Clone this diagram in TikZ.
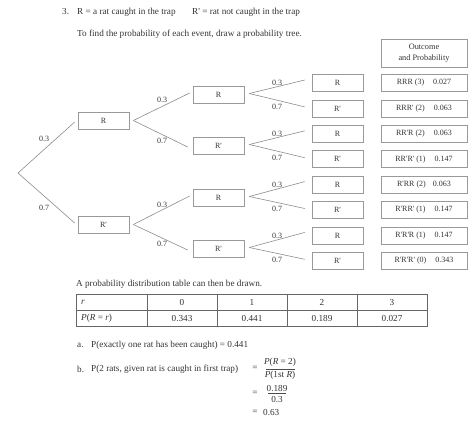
\documentclass[tikz,border=0pt]{standalone}
\usepackage{fontspec}
\setmainfont{Liberation Serif}[Ligatures=TeXOff]
\begin{document}
\begin{tikzpicture}[x=1pt,y=-1pt,
  every node/.style={font=\fontsize{9.2}{11}\selectfont, text=black!80, inner sep=0pt},
  tbox/.style={draw=black!40, line width=0.6pt, minimum width=51pt, minimum height=17pt,
               font=\fontsize{8}{9.6}\selectfont},
  obox/.style={draw=black!40, line width=0.6pt, minimum width=86pt, minimum height=17pt,
               font=\fontsize{8}{9.6}\selectfont},
  branch/.style={draw=black!45, line width=0.6pt},
  prob/.style={font=\fontsize{8}{9.6}\selectfont},
  txt/.style={anchor=west},
  tline/.style={draw=black!60, line width=0.7pt}]
\useasboundingbox (0,0) rectangle (474,426);

% heading
\node[txt] (n3) at (62,12) {3.};
\node[txt] (defR) at (77,12) {R = a rat caught in the trap};
\node[txt] (defRp) at (192,12) {R' = rat not caught in the trap};
\node[txt] (intro) at (77,34) {To find the probability of each event, draw a probability tree.};

% header box
\node[draw=black!40, line width=0.6pt, minimum width=86pt, minimum height=28pt, align=center,
      font=\fontsize{8.3}{11}\selectfont] (head) at (424,53) {Outcome\\and Probability};

% tree
\coordinate (root) at (18,173);
\node[tbox] (a) at (103.5,120.5) {R};
\node[tbox] (b) at (103.5,224.5) {R'};
\node[tbox] (aa) at (218.5,95) {R};
\node[tbox] (ab) at (218.5,146) {R'};
\node[tbox] (ba) at (218.5,198) {R};
\node[tbox] (bb) at (218.5,249) {R'};

\foreach \i/\lab/\out in {0/R/{RRR (3)\hspace{9pt}0.027},
                         1/R'/{RRR' (2)\hspace{9pt}0.063},
                         2/R/{RR'R (2)\hspace{9pt}0.063},
                         3/R'/{RR'R' (1)\hspace{9pt}0.147},
                         4/R/{R'RR (2)\hspace{7pt}0.063},
                         5/R'/{R'RR' (1)\hspace{9pt}0.147},
                         6/R/{R'R'R (1)\hspace{9pt}0.147},
                         7/R'/{R'R'R' (0)\hspace{9pt}0.343}}{
  \node[tbox] (l\i) at (337.5,83+25.4*\i) {\lab};
  \node[obox] (o\i) at (424,83+25.4*\i) {\out};
}

% branches
\draw[branch] (root) -- ([xshift=-3pt,yshift=-1.5pt]a.west);
\draw[branch] (root) -- ([xshift=-3pt,yshift=1.5pt]b.west);
\foreach \p/\u/\d in {a/aa/ab, b/ba/bb}{
  \draw[branch] ([xshift=4pt]\p.east) -- ([xshift=-3pt,yshift=2pt]\u.west);
  \draw[branch] ([xshift=4pt]\p.east) -- ([xshift=-5pt,yshift=-1pt]\d.west);
}
\foreach \p/\u/\d in {aa/l0/l1, ab/l2/l3, ba/l4/l5, bb/l6/l7}{
  \draw[branch] ([xshift=5pt,yshift=1.5pt]\p.east) -- ([xshift=-7pt,yshift=3pt]\u.west);
  \draw[branch] ([xshift=5pt,yshift=1.5pt]\p.east) -- ([xshift=-7pt,yshift=1.5pt]\d.west);
}

% probabilities
\node[prob] (p1) at (44,139) {0.3};
\node[prob] (p2) at (44,208) {0.7};
\node[prob] (p3) at (162,100) {0.3};
\node[prob] (p4) at (162,141) {0.7};
\node[prob] (p5) at (162,205) {0.3};
\node[prob] (p6) at (162,244) {0.7};
\foreach \k in {0,1,2,3}{
  \node[prob] (q\k u) at (277,83+50.8*\k) {0.3};
  \node[prob] (q\k d) at (277,107+50.8*\k) {0.7};
}

% table
\node[txt] (tabintro) at (76,284) {A probability distribution table can then be drawn.};
\draw[tline] (76,294) rectangle (427,326);
\draw[tline] (76,310) -- (427,310);
\foreach \x in {147,217,287,357}{ \draw[tline] (\x,294) -- (\x,326); }
\node[txt] (hr) at (81,302.5) {\textit{r}};
\node[txt] (hp) at (81,318.5) {\textit{P}(\textit{R} = \textit{r})};
\foreach \v/\p [count=\c from 0] in {0/0.343, 1/0.441, 2/0.189, 3/0.027}{
  \node (hv\c) at (182+70*\c,302.5) {\v};
  \node (pv\c) at (182+70*\c,318.5) {\p};
}

% answers
\node[txt] (qa) at (77,345) {a.};
\node[txt] (qatext) at (91,345) {P(exactly one rat has been caught) = 0.441};
\node[txt] (qb) at (77,369) {b.};
\node[txt] (qbtext) at (91,369) {P(2 rats, given rat is caught in first trap)};
\node (eq1) at (255,368) {=};
\node (num1) at (280,362.5) {\textit{P}(\textit{R} = 2)};
\draw[black!70, line width=0.5pt] (266,369) -- (295,369);
\node (den1) at (280,375.5) {\textit{P}(1st \textit{R})};
\node (eq2) at (255,393) {=};
\node (num2) at (277,388) {0.189};
\draw[black!70, line width=0.5pt] (268,393.5) -- (286,393.5);
\node (den2) at (277,399.5) {0.3};
\node (eq3) at (255,412) {=};
\node[txt] (res) at (263,412) {0.63};
\end{tikzpicture}
\end{document}
